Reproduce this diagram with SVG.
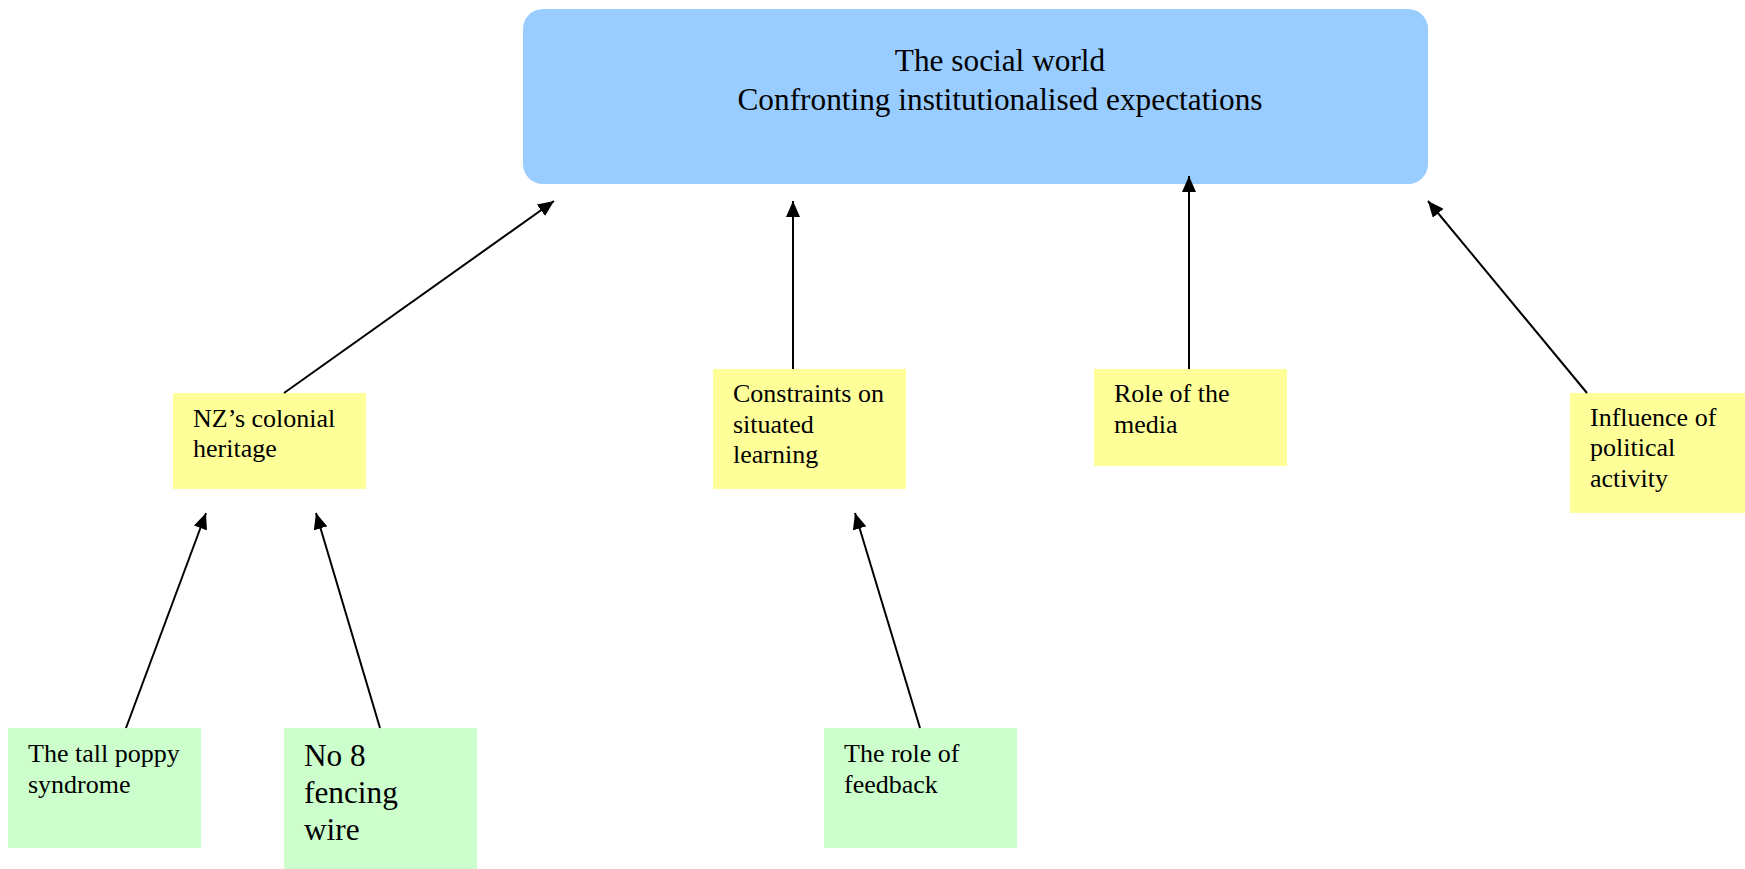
<svg xmlns="http://www.w3.org/2000/svg" width="1745" height="869" viewBox="0 0 1745 869">
  <style>
    text { font-family: "Liberation Serif", "Times New Roman", serif; fill: #000; }
    .main { fill: #99ccff; }
    .mid { fill: #ffff99; }
    .leaf { fill: #ccffcc; }
    .t26 { font-size: 26px; }
    .t31 { font-size: 31.3px; }
    .link { stroke: #000; stroke-width: 2; fill: none; marker-end: url(#arrow); }
  </style>
  <defs>
    <marker id="arrow" markerUnits="userSpaceOnUse" markerWidth="17" markerHeight="14" refX="16" refY="7" orient="auto">
      <path d="M0,0 L16,7 L0,14 Z" fill="#000"/>
    </marker>
  </defs>
  <rect width="1745" height="869" fill="#fff"/>

  <g id="social-world">
    <rect class="main" x="523" y="9" width="905" height="175" rx="20" ry="20"/>
    <text class="t31" x="1000" y="71" text-anchor="middle">The social world</text>
    <text class="t31" x="1000" y="110" text-anchor="middle">Confronting institutionalised expectations</text>
  </g>

  <g id="colonial-heritage">
    <rect class="mid" x="173" y="393" width="193" height="96"/>
    <text class="t26" x="193" y="427">NZ’s colonial</text>
    <text class="t26" x="193" y="457">heritage</text>
  </g>

  <g id="situated-learning">
    <rect class="mid" x="713" y="369" width="193" height="120"/>
    <text class="t26" x="733" y="402">Constraints on</text>
    <text class="t26" x="733" y="433">situated</text>
    <text class="t26" x="733" y="463">learning</text>
  </g>

  <g id="media">
    <rect class="mid" x="1094" y="369" width="193" height="97"/>
    <text class="t26" x="1114" y="402">Role of the</text>
    <text class="t26" x="1114" y="433">media</text>
  </g>

  <g id="political-activity">
    <rect class="mid" x="1570" y="393" width="175" height="120"/>
    <text class="t26" x="1590" y="426">Influence of</text>
    <text class="t26" x="1590" y="456">political</text>
    <text class="t26" x="1590" y="487">activity</text>
  </g>

  <g id="tall-poppy">
    <rect class="leaf" x="8" y="728" width="193" height="120"/>
    <text class="t26" x="28" y="762">The tall poppy</text>
    <text class="t26" x="28" y="793">syndrome</text>
  </g>

  <g id="fencing-wire">
    <rect class="leaf" x="284" y="728" width="193" height="141"/>
    <text class="t31" x="304" y="766">No 8</text>
    <text class="t31" x="304" y="803">fencing</text>
    <text class="t31" x="304" y="840">wire</text>
  </g>

  <g id="feedback">
    <rect class="leaf" x="824" y="728" width="193" height="120"/>
    <text class="t26" x="844" y="762">The role of</text>
    <text class="t26" x="844" y="793">feedback</text>
  </g>

  <g id="connectors">
    <line class="link" x1="284" y1="393" x2="554" y2="201"/>
    <line class="link" x1="793" y1="369" x2="793" y2="201"/>
    <line class="link" x1="1189" y1="369" x2="1189" y2="176"/>
    <line class="link" x1="1587" y1="393" x2="1428" y2="201"/>
    <line class="link" x1="126" y1="728" x2="206" y2="513"/>
    <line class="link" x1="380" y1="728" x2="316" y2="513"/>
    <line class="link" x1="920" y1="728" x2="855" y2="513"/>
  </g>
</svg>
